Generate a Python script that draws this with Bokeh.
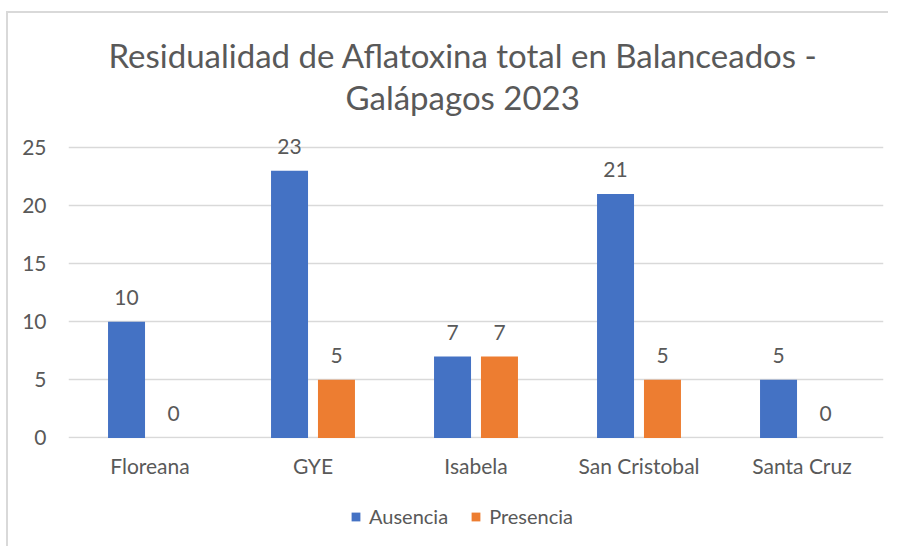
from bokeh.plotting import figure
from bokeh.layouts import column
from bokeh.models import ColumnDataSource, Title, Legend, LegendItem, FactorRange, Range1d
from bokeh.transform import dodge
from bokeh.core.properties import value
from bokeh.embed import file_html
from bokeh.resources import INLINE

categories = ["Floreana", "GYE", "Isabela", "San Cristobal", "Santa Cruz"]
ausencia = [10, 23, 7, 21, 5]
presencia = [0, 5, 7, 5, 0]
series_names = ["Ausencia", "Presencia"]
y_ticks = [0, 5, 10, 15, 20, 25]
title_lines = ["Residualidad de Aflatoxina total en Balanceados -", "Galápagos 2023"]

FONT = "Lato"
GRAY = "#595959"
BLUE = "#4472C4"
ORANGE = "#ED7D31"
GRID = "#D9D9D9"

src = ColumnDataSource(dict(
    cat=categories, a=ausencia, p=presencia,
    al=[str(v) for v in ausencia], pl=[str(v) for v in presencia]))

p = figure(x_range=FactorRange(factors=categories), y_range=Range1d(-0.05, 27.66),
           width=880, height=470, title=None,
           output_backend="svg", toolbar_location=None,
           min_border_left=60, min_border_right=5, min_border_top=103, min_border_bottom=45)

OFF = 0.144
W = 0.227
rb = p.vbar(x=dodge('cat', -OFF, range=p.x_range), top='a', width=W, source=src,
            fill_color=BLUE, line_color=None)
ro = p.vbar(x=dodge('cat', OFF, range=p.x_range), top='p', width=W, source=src,
            fill_color=ORANGE, line_color=None)

for off, col, lab in [(-OFF, 'a', 'al'), (OFF, 'p', 'pl')]:
    p.text(x=dodge('cat', off, range=p.x_range), y=col, text=lab, source=src,
           text_align='center', text_baseline='middle', y_offset=-24,
           text_font=value(FONT), text_font_size="21px", text_color=GRAY)

t2 = Title(text=title_lines[1], align="left", offset=277, text_font=FONT,
           text_font_size="33px", text_color=GRAY, text_font_style="normal", standoff=0)
t1 = Title(text=title_lines[0], align="left", offset=40, text_font=FONT,
           text_font_size="33px", text_color=GRAY, text_font_style="normal", standoff=0)
p.add_layout(t2, "above")
p.add_layout(t1, "above")

p.xgrid.grid_line_color = None
p.ygrid.grid_line_color = GRID
p.ygrid.grid_line_width = 1.5
p.outline_line_color = None

p.yaxis.ticker = y_ticks
for ax in (p.xaxis[0], p.yaxis[0]):
    ax.axis_line_color = None
    ax.major_tick_line_color = None
    ax.minor_tick_line_color = None
    ax.major_label_text_font = FONT
    ax.major_label_text_font_size = "21px"
    ax.major_label_text_color = GRAY
p.yaxis.major_label_standoff = 16
p.xaxis.major_label_standoff = 8

# legend strip
p2 = figure(width=880, height=63, x_range=(0, 1), y_range=(0, 1), title=None,
            output_backend="svg", toolbar_location=None,
            x_axis_type=None, y_axis_type=None,
            min_border_left=0, min_border_right=0, min_border_top=0, min_border_bottom=0)
p2.xgrid.grid_line_color = None
p2.ygrid.grid_line_color = None
p2.outline_line_color = None
lsrc = ColumnDataSource(dict(x=[0.5], top=[0], bottom=[0]))
lb = p2.vbar(x='x', top='top', bottom='bottom', width=0.01, source=lsrc,
             fill_color=BLUE, line_color=None)
lo = p2.vbar(x='x', top='top', bottom='bottom', width=0.01, source=lsrc,
             fill_color=ORANGE, line_color=None)

legend = Legend(items=[LegendItem(label=series_names[0], renderers=[lb]),
                       LegendItem(label=series_names[1], renderers=[lo])],
                location=(282, 18), orientation="horizontal",
                padding=0, margin=0, border_line_color=None, background_fill_alpha=0,
                glyph_width=11, glyph_height=11, label_standoff=8, spacing=22,
                label_text_font=FONT, label_text_font_size="20px", label_text_color=GRAY)
p2.add_layout(legend, "center")

layout = column(p, p2, spacing=0)
layout.styles = {"border-top": f"2px solid {GRID}", "border-left": f"2px solid {GRID}",
                 "border-right": "none", "border-bottom": "none",
                 "margin-top": "11px", "margin-left": "6px"}
open("out.html", "w").write(file_html(layout, INLINE))
